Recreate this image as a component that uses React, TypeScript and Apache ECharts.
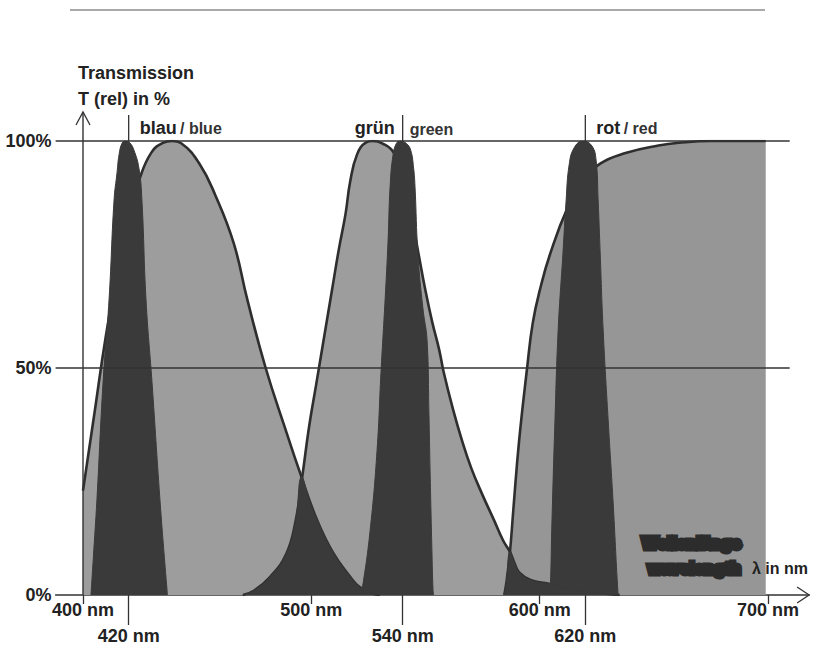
import React, { useEffect, useRef } from "react";
import * as echarts from "echarts";

const FONT = '"Liberation Sans", Arial, Helvetica, sans-serif';
const INK = "#222222";
const DARK = "#3a3a3a";
const LIGHT = "#9d9d9d";

// axis ticks / labels
const xMainTicks = [400, 500, 600, 700];
const xPeakTicks = [420, 540, 620];
const yTickValues = [0, 50, 100];
const gridLevels = [50, 100];

// broad filter curves [nm, T %]
const blueFilter = [
  [400, 23], [405, 40], [410, 57], [415, 71], [420, 83], [425, 92], [430, 97.5], [435, 99.6], [439, 100],
  [443, 99.5], [451, 95], [458, 88], [466, 77.5], [472, 65], [480, 50], [489, 36], [495, 27], [502.5, 16.5],
  [509.5, 9.3], [517, 4], [521, 1.8], [526, 0.5], [530, 0],
];
const greenFilter = [
  [470, 0], [475, 1], [482, 4], [489, 9], [493, 16], [496, 26], [499, 37], [502, 46], [505, 55], [509, 67],
  [512, 76], [515, 84], [517, 91], [520, 97], [524, 99.7], [527, 100], [531, 99.5], [536, 97.5], [540, 92],
  [544, 83], [547, 75], [550, 67], [553, 60], [556, 54], [558, 49], [562, 41], [566, 34], [570, 28], [575, 22],
  [580, 16.5], [584, 12], [587, 9.5], [589, 7], [591, 5], [596, 3.3], [604, 2.5], [612, 1.5], [625, 0.5], [635, 0],
];
const redFilter = [
  [584.5, 0], [585.5, 3], [587, 9.5], [588.5, 19], [591, 34], [594.5, 50], [597, 60], [600.5, 68], [604.5, 75],
  [612, 85], [619, 91], [626.5, 95], [638, 97.4], [652, 99], [661, 99.6], [675, 100], [699, 100],
];
// overlap regions of neighbouring filters
const blueGreenOverlap = [
  [470, 0], [475, 1], [482, 4], [489, 9], [493, 16], [495.8, 26], [499, 21], [502.5, 16.5], [509.5, 9.3],
  [517, 4], [521, 1.8], [526, 0.5], [530, 0],
];
const greenRedOverlap = [
  [584.5, 0], [585.5, 3], [587, 9.5], [589, 7], [591, 5], [596, 3.3], [604, 2.5], [612, 1.5], [625, 0.5], [635, 0],
];
// narrow emission peaks
const peak420 = [
  [403.5, 0], [404.5, 8], [406.1, 21], [408.8, 47], [411.4, 65], [413.6, 87], [414.9, 93], [415.8, 97],
  [417.2, 99.6], [418.8, 100], [420.5, 99.6], [422.3, 98], [424.5, 94], [425.8, 87], [427.6, 65], [430.2, 47],
  [433.7, 21], [436, 6], [437, 0],
];
const peak540 = [
  [521.5, 0], [522.2, 1], [525.7, 14], [528.8, 32], [530.5, 49], [532.3, 65], [533.6, 78], [534.5, 90],
  [535.8, 97], [537.3, 99.5], [538.9, 100], [541.5, 99.5], [543.5, 98], [544.8, 94], [545.4, 90], [546.7, 75],
  [548.9, 63], [550.7, 56], [551.5, 40], [552, 27.5], [552.8, 10], [553.3, 1], [553.6, 0],
];
const peak620 = [
  [604.2, 0], [604.6, 0.4], [605.4, 16.5], [606.7, 38.5], [608.1, 58.4], [610.2, 75.3], [611.6, 87],
  [612.9, 94.7], [615.1, 98.5], [619, 100], [622.9, 98.9], [624.7, 95.8], [625.6, 87], [626.5, 75.3],
  [627.8, 58.4], [630, 38.5], [632.1, 21], [634.3, 0.4], [634.6, 0],
];

const peakLabels = [
  { value: 420, main: "blau", sub: "/ blue" },
  { value: 540, main: "grün", sub: "green" },
  { value: 620, main: "rot", sub: "/ red" },
];

const X_MIN = 388;
const X_MAX = 718;

export default function App() {
  const ref = useRef<HTMLDivElement>(null);

  useEffect(() => {
    const chart = echarts.init(ref.current!, null, { renderer: "svg" });

    const light = (name: string, data: number[][], color: string) => ({
      name, type: "line", data, smooth: 0.45, symbol: "none", z: 2,
      lineStyle: { color: "#2e2e2e", width: 2.6 },
      areaStyle: { color, opacity: 1 },
    });
    const dark = (name: string, data: number[][]) => ({
      name, type: "line", data, smooth: 0.45, symbol: "none", z: 3,
      lineStyle: { color: DARK, width: 1 },
      areaStyle: { color: DARK, opacity: 1 },
    });

    const labelStyle = { fontFamily: FONT, fontWeight: "bold", fontSize: 18, color: INK };

    const option: any = {
      animation: false,
      backgroundColor: "#ffffff",
      textStyle: { fontFamily: FONT },
      grid: { left: 55.6, right: 19.9, top: 141, bottom: 73, containLabel: false, outerBoundsMode: "none" },
      xAxis: [
        {
          type: "value", min: X_MIN, max: X_MAX, position: "bottom",
          axisLine: { show: true, onZero: false, lineStyle: { color: "#333", width: 1.5 } },
          axisTick: { show: true, customValues: xMainTicks, length: 9, lineStyle: { color: "#333", width: 1.3 } },
          axisLabel: { ...labelStyle, customValues: xMainTicks, margin: 6, formatter: "{value} nm" },
          splitLine: { show: false },
        },
        {
          type: "value", min: X_MIN, max: X_MAX, position: "bottom",
          axisLine: { show: false },
          axisTick: { show: true, customValues: xPeakTicks, length: 30, lineStyle: { color: "#333", width: 1.3 } },
          axisLabel: { ...labelStyle, customValues: xPeakTicks, margin: 32, formatter: "{value} nm" },
          splitLine: { show: false },
        },
      ],
      yAxis: {
        type: "value", min: 0, max: 100, interval: 50,
        axisLine: { show: false }, axisTick: { show: false }, splitLine: { show: false },
        axisLabel: { ...labelStyle, margin: 4, formatter: "{value}%", customValues: yTickValues },
      },
      series: [
        {
          ...light("blue filter", blueFilter, LIGHT),
          markLine: {
            silent: true, symbol: ["none", "none"], label: { show: false }, z: 5,
            lineStyle: { color: "#333", width: 1.5, type: "solid" },
            data: gridLevels.map((v) => [{ coord: [X_MIN, v] }, { coord: [709.5, v] }]),
          },
        },
        light("green filter", greenFilter, LIGHT),
        light("red filter", redFilter, "#969696"),
        dark("blue/green overlap", blueGreenOverlap),
        dark("green/red overlap", greenRedOverlap),
        dark("420 nm", peak420),
        dark("540 nm", peak540),
        dark("620 nm", peak620),
      ],
    };
    chart.setOption(option);

    const p = (x: number, y: number) => chart.convertToPixel({ gridIndex: 0 }, [x, y]) as number[];
    const [ax, ay] = p(400, 0);
    const yTop = p(400, 106.4)[1];
    const xEnd = p(X_MAX, 0)[0];
    const top100 = p(400, 100)[1];

    const graphic: any[] = [
      { type: "line", z: 100, shape: { x1: 70, y1: 10, x2: 765, y2: 10 }, style: { stroke: "#555", lineWidth: 1.2 } },
      { type: "line", z: 100, shape: { x1: ax, y1: ay, x2: ax, y2: yTop }, style: { stroke: "#333", lineWidth: 1.4 } },
      {
        type: "polyline", z: 100, shape: { points: [[ax - 7, yTop + 13], [ax, yTop], [ax + 7, yTop + 13]] },
        style: { stroke: "#333", lineWidth: 1.3, fill: "none" },
      },
      {
        type: "polyline", z: 100, shape: { points: [[xEnd - 12, ay - 8], [xEnd, ay], [xEnd - 12, ay + 8]] },
        style: { stroke: "#333", lineWidth: 1.3, fill: "none" },
      },
      {
        type: "text", z: 100, x: 78, y: 73,
        style: { text: "Transmission", font: `bold 18px ${FONT}`, fill: INK, verticalAlign: "middle", align: "left" },
      },
      {
        type: "text", z: 100, x: 78, y: 99,
        style: { text: "T (rel) in %", font: `bold 18px ${FONT}`, fill: INK, verticalAlign: "middle", align: "left" },
      },
      {
        type: "text", z: 100, x: 642, y: 543,
        style: {
          text: "Wellenlänge", font: `bold 17px ${FONT}`, fill: "#2c2c2c",
          stroke: "#2c2c2c", lineWidth: 5, verticalAlign: "middle", align: "left",
        },
      },
      {
        type: "text", z: 100, x: 648, y: 568,
        style: {
          text: "wavelength", font: `bold 17px ${FONT}`, fill: "#2c2c2c",
          stroke: "#2c2c2c", lineWidth: 5, verticalAlign: "middle", align: "left",
        },
      },
      {
        type: "text", z: 100, x: 752, y: 568,
        style: { text: "λ in nm", font: `bold 16px ${FONT}`, fill: INK, verticalAlign: "middle", align: "left" },
      },
    ];

    peakLabels.forEach((lab) => {
      const px = p(lab.value, 100)[0];
      graphic.push({
        type: "line", z: 100, shape: { x1: px, y1: top100, x2: px, y2: top100 - 26 },
        style: { stroke: "#333", lineWidth: 1.3 },
      });
      if (lab.value === 540) {
        graphic.push({
          type: "text", z: 100, x: px - 8, y: 128,
          style: { text: lab.main, font: `bold 18px ${FONT}`, fill: INK, verticalAlign: "middle", align: "right" },
        });
        graphic.push({
          type: "text", z: 100, x: px + 7, y: 129,
          style: { text: lab.sub, font: `bold 16px ${FONT}`, fill: "#333", verticalAlign: "middle", align: "left" },
        });
      } else {
        graphic.push({
          type: "text", z: 100, x: px + 11, y: 128,
          style: {
            text: `{b|${lab.main}} {n|${lab.sub}}`, verticalAlign: "middle", align: "left",
            rich: {
              b: { font: `bold 18px ${FONT}`, fill: INK },
              n: { font: `bold 16px ${FONT}`, fill: "#333" },
            },
          },
        });
      }
    });

    chart.setOption({ graphic });

    return () => chart.dispose();
  }, []);

  return (
    <div
      ref={ref}
      style={{ position: "fixed", left: 0, top: 0, width: 829, height: 668, background: "#fff" }}
    />
  );
}
